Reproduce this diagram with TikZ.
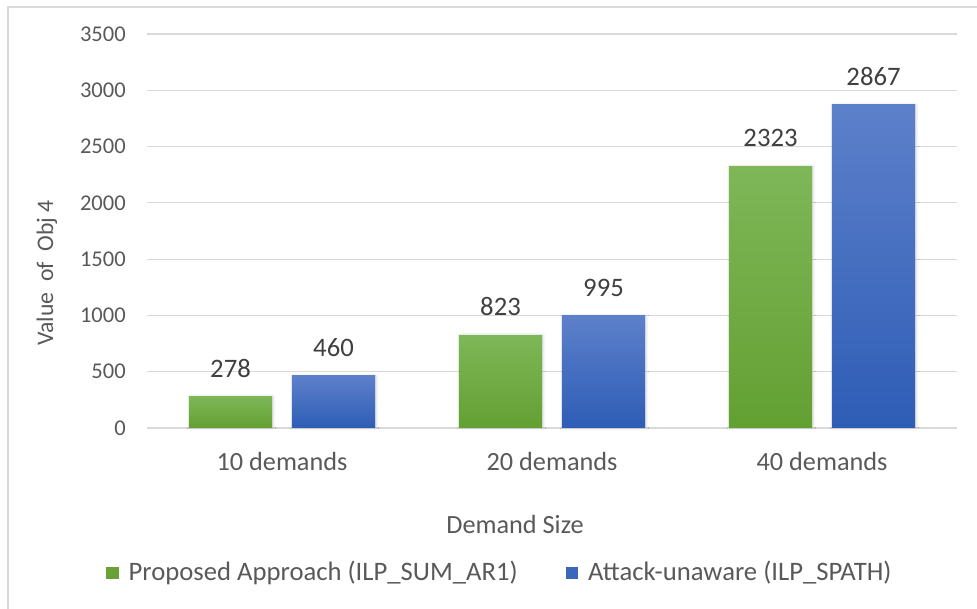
\documentclass[tikz,border=0pt]{standalone}
\usepackage{fontspec}
\setmainfont{Carlito}
\usetikzlibrary{positioning,shadows.blur}

\definecolor{txtgray}{RGB}{89,89,89}
\definecolor{valgray}{RGB}{64,64,64}
\definecolor{gridgray}{RGB}{217,217,217}
\definecolor{greentop}{RGB}{126,183,88}
\definecolor{greenbot}{RGB}{99,160,50}
\definecolor{bluetop}{RGB}{93,128,202}
\definecolor{bluebot}{RGB}{46,93,182}

\begin{document}
\begin{tikzpicture}[x=0.75pt, y=-0.75pt,
    every node/.style={text=txtgray, inner sep=0pt},
    gridline/.style={draw=gridgray, line width=0.9pt},
    ticklabel/.style={anchor=east, font=\fontsize{16.9}{18}\selectfont},
    catlabel/.style={font=\fontsize{19.7}{22}\selectfont},
    vallabel/.style={text=valgray, font=\fontsize{20}{22}\selectfont},
    legtext/.style={anchor=west, font=\fontsize{20}{22}\selectfont},
    legsq/.style={minimum width=9.5pt, minimum height=9.5pt},
    barbox/.style={anchor=south, minimum width=62.5pt, minimum height=#1*0.08445pt,
        blur shadow={shadow xshift=0.6pt, shadow yshift=0pt, shadow opacity=20, shadow blur steps=4}},
    greenbar/.style={barbox=#1, top color=greentop, bottom color=greenbot},
    bluebar/.style={barbox=#1, top color=bluetop, bottom color=bluebot}]
    \useasboundingbox (0,0) rectangle (977,608);

    % Frame
    \draw[gridgray, line width=1pt] (8,612) -- (8,7) -- (980,7);

    % Grid and value axis
    \foreach \v in {0,500,...,3500} {
        \draw[gridline] (147,{428-\v*0.1126}) -- (957,{428-\v*0.1126});
        \node[ticklabel] (tick\v) at (126,{428-\v*0.1126}) {\v};
    }
    \node[rotate=90, font=\fontsize{17.8}{20}\selectfont] (ytitle) at (47,273) {Value\ \ of\ \ Obj 4};

    % 10 demands
    \node[greenbar=278] (g10) at (230.5,428) {};
    \node[bluebar=460] (b10) at (333.5,428) {};
    \node[vallabel, above=14pt of g10] (g10val) {278};
    \node[vallabel, above=14pt of b10] (b10val) {460};
    \node[catlabel] (cat10) at (282,461) {10 demands};

    % 20 demands
    \node[greenbar=823] (g20) at (500.5,428) {};
    \node[bluebar=995] (b20) at (603.5,428) {};
    \node[vallabel, above=14pt of g20] (g20val) {823};
    \node[vallabel, above=14pt of b20] (b20val) {995};
    \node[catlabel] (cat20) at (552,461) {20 demands};

    % 40 demands
    \node[greenbar=2323] (g40) at (770.5,428) {};
    \node[bluebar=2867] (b40) at (873.5,428) {};
    \node[vallabel, above=14pt of g40] (g40val) {2323};
    \node[vallabel, above=14pt of b40] (b40val) {2867};
    \node[catlabel] (cat40) at (822,461) {40 demands};

    \node[catlabel] (xtitle) at (515,524) {Demand Size};

    % Legend
    \node[legsq, fill=greenbot!90!greentop] (leggreen) at (112.5,573) {};
    \node[legtext, right=7pt of leggreen] (legtxtgreen) {Proposed Approach (ILP\_SUM\_AR1)};
    \node[legsq, fill=bluebot!75!bluetop] (legblue) at (572,573) {};
    \node[legtext, right=7pt of legblue] (legtxtblue) {Attack-unaware (ILP\_SPATH)};
\end{tikzpicture}
\end{document}
